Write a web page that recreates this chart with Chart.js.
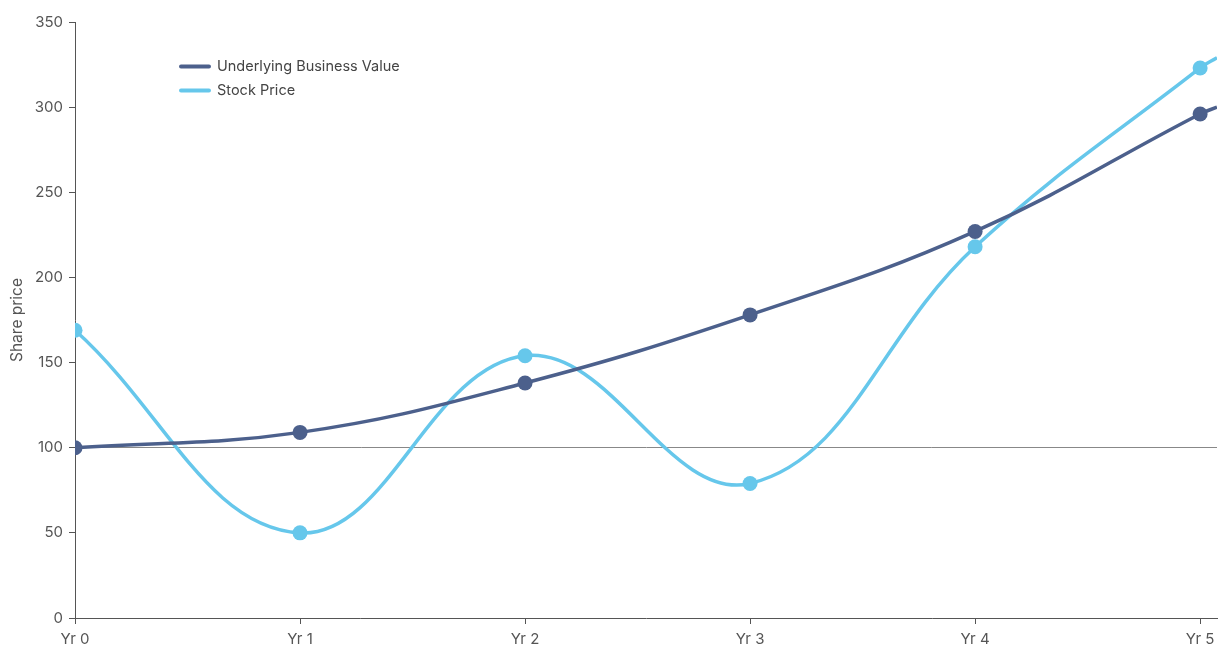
<!DOCTYPE html>
<html>
<head>
<meta charset="utf-8">
<script src="https://cdn.jsdelivr.net/npm/chart.js@4/dist/chart.umd.min.js"></script>
<style>
html,body{margin:0;padding:0;background:#fff;overflow:hidden;}
#c{display:block;}
</style>
</head>
<body>
<canvas id="c" width="1228" height="648"></canvas>
<script>
// x positions (years); last entry is the line's run-out to the axis end
const years = [0, 1, 2, 3, 4, 5, 5.075];
const xTickValues = [0, 1, 2, 3, 4, 5];
const xTickLabels = ['Yr 0', 'Yr 1', 'Yr 2', 'Yr 3', 'Yr 4', 'Yr 5'];
const businessValue = [100, 109, 138, 178, 227, 296, 300];
const stockPrice = [169, 50, 154, 79, 218, 323, 329];
const seriesNames = ['Underlying Business Value', 'Stock Price'];
const yTicks = [0, 50, 100, 150, 200, 250, 300, 350];

const darkBlue = '#4c608c';
const lightBlue = '#66c7eb';
const axisColor = '#555555';
const textColor = '#555555';

const pts = arr => arr.map((v, i) => ({x: years[i], y: v}));
const radii = years.map((_, i) => i === years.length - 1 ? 0 : 7.5);

const legendPlugin = {
  id: 'insideLegend',
  afterDraw(chart) {
    const ctx = chart.ctx;
    ctx.save();
    chart.data.datasets.forEach((ds, i) => {
      const y = 66.5 + i * 24;
      ctx.strokeStyle = ds.borderColor;
      ctx.lineWidth = 4;
      ctx.lineCap = 'round';
      ctx.beginPath();
      ctx.moveTo(181, y);
      ctx.lineTo(209, y);
      ctx.stroke();
      ctx.fillStyle = '#444';
      ctx.font = '14.5px Inter';
      ctx.textBaseline = 'middle';
      ctx.textAlign = 'left';
      ctx.fillText(ds.label, 217, y);
    });
    ctx.restore();
  }
};

Chart.defaults.font.family = 'Inter';

new Chart(document.getElementById('c'), {
  type: 'line',
  data: {
    datasets: [
      {
        label: seriesNames[0],
        data: pts(businessValue),
        borderColor: darkBlue,
        backgroundColor: darkBlue,
        pointBackgroundColor: darkBlue,
        pointBorderWidth: 0,
        pointRadius: radii,
        borderWidth: 3.5,
        tension: 0.4,
        fill: false
      },
      {
        label: seriesNames[1],
        data: pts(stockPrice),
        borderColor: lightBlue,
        backgroundColor: lightBlue,
        pointBackgroundColor: lightBlue,
        pointBorderWidth: 0,
        pointRadius: radii,
        borderWidth: 3.5,
        tension: 0.4,
        fill: false
      }
    ]
  },
  options: {
    responsive: false,
    maintainAspectRatio: false,
    animation: false,
    devicePixelRatio: 1,
    layout: {padding: {top: 22, right: 11, left: 0, bottom: 0}},
    plugins: {legend: {display: false}, tooltip: {enabled: false}},
    scales: {
      x: {
        type: 'linear',
        min: 0,
        max: years[years.length - 1],
        afterBuildTicks: s => { s.ticks = xTickValues.map(v => ({value: v})); },
        afterFit: s => { s.height = 30; },
        ticks: {
          callback: (v) => { const i = xTickValues.indexOf(v); return i >= 0 ? xTickLabels[i] : ''; },
          color: textColor,
          font: {size: 15},
          padding: 6,
          maxRotation: 0
        },
        grid: {display: true, drawOnChartArea: false, tickLength: 6, tickColor: axisColor},
        border: {color: axisColor, width: 1}
      },
      y: {
        min: 0,
        max: 350,
        afterBuildTicks: s => { s.ticks = yTicks.map(v => ({value: v})); },
        afterFit: s => { s.width = 75; },
        ticks: {color: textColor, font: {size: 15}, padding: 6},
        title: {display: true, text: 'Share price', color: textColor, font: {size: 15.5}, padding: {top: 8, bottom: 0}},
        grid: {
          color: c => (c.tick && c.tick.value === 100) ? '#888888' : 'rgba(0,0,0,0)',
          lineWidth: 1,
          tickLength: 6,
          tickColor: axisColor
        },
        border: {color: axisColor, width: 1}
      }
    }
  },
  plugins: [legendPlugin]
});
</script>
</body>
</html>
